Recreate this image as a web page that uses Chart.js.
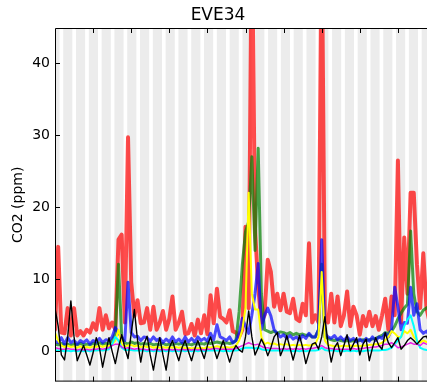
<!DOCTYPE html>
<html>
<head>
    <meta charset="utf-8" />
    <title>EVE34</title>
    <script src="https://cdn.jsdelivr.net/npm/chart.js@4.4.0/dist/chart.umd.min.js"></script>
    <style>
        html, body { margin: 0; padding: 0; background: #fff; overflow: hidden; }
        #wrap { width: 427px; height: 391px; overflow: hidden; }
        canvas { display: block; }
    </style>
</head>
<body>

<div id="wrap"><canvas id="eve34" width="446" height="395"></canvas></div>

<script>
    // time axis, in days, one reading every 6 hours
    var days = [];
    for (var i = 0; i <= 120; i++) days.push(i / 4);

    var yTicks = [0, 10, 20, 30, 40];
    var xTicks = [3, 6, 9, 12, 15, 18, 21, 24, 27];

    var red = [
        3, 14.5, 2.6, 2.5, 6.0, 2.2, 6.0, 2.2, 2.8, 2.2, 3.0, 2.6, 3.9, 3.0, 6.0, 3.0, 5.0, 3.2, 4.0, 3.0,
        15.5, 16.2, 4.0, 29.7, 9.6, 4.9, 7.1, 3.9, 4.0, 6.0, 3.0, 6.2, 3.0, 4.0, 5.6, 3.0, 4.5, 7.6, 3.0, 4.0,
        5.5, 2.4, 2.5, 3.8, 2.2, 4.4, 2.5, 5.0, 2.4, 7.8, 3.9, 8.7, 4.8, 4.5, 4.0, 5.7, 2.8, 2.6, 2.0, 3.0,
        17.3, 6.0, 60, 17, 9, 4, 5, 12.7, 11, 6.2, 8.0, 5.7, 8.0, 5.5, 5.3, 7.3, 4.5, 4.2, 6.6, 5.0,
        15.0, 4.0, 5.0, 4.0, 60, 5, 4, 8.0, 4.0, 7.6, 3.5, 5.0, 8.3, 3.5, 6.2, 5.0, 2.3, 4.9, 3.5, 5.5,
        3.5, 4.9, 3.0, 5.0, 7.3, 3.0, 7.6, 5.0, 26.5, 4.0, 15.8, 8.0, 22.0, 22.0, 12.1, 6.0, 13.6, 6.0, 4.0, 5.0,
        4.0
    ];
    var green = [
        1.0, 0.9, 1.1, 0.9, 1.0, 0.8, 1.0, 0.9, 1.1, 0.9, 1.0, 0.9, 1.1, 1.0, 1.2, 1.0, 1.1, 1.0, 1.5, 2.5,
        12.1, 2.0, 1.2, 1.0, 1.3, 1.1, 1.2, 1.0, 1.1, 1.0, 1.1, 0.9, 1.0, 0.9, 1.1, 0.9, 1.0, 0.9, 1.1, 1.0,
        1.1, 0.9, 1.0, 0.9, 1.1, 1.0, 1.1, 1.0, 1.2, 1.1, 1.2, 1.3, 1.2, 1.1, 1.2, 1.1, 1.2, 1.5, 5.5, 12.0,
        16.6, 18.0, 27.0, 14.0, 28.2, 8.0, 3.0, 2.8, 2.6, 2.8, 2.5, 2.7, 2.6, 2.4, 2.6, 2.3, 2.5, 2.3, 2.4, 2.2,
        2.3, 2.0, 2.0, 3.0, 12.1, 2.0, 1.8, 1.6, 1.5, 1.6, 1.5, 1.4, 1.5, 1.4, 1.5, 1.4, 1.5, 1.6, 1.5, 1.6,
        1.7, 1.8, 2.0, 2.2, 2.6, 2.5, 2.8, 3.5, 4.5, 5.3, 6.0, 6.5, 16.7, 8.0, 5.5, 5.0, 5.7, 6.0, 6.3, 6.6,
        7.0
    ];
    var blue = [
        1.4, 1.2, 1.9, 1.0, 1.9, 1.2, 1.5, 1.0, 1.5, 1.2, 1.6, 1.0, 1.5, 1.3, 1.8, 1.2, 1.6, 1.5, 2.0, 3.3,
        2.5, 2.0, 1.5, 9.6, 2.6, 2.0, 2.1, 1.5, 2.0, 1.9, 1.4, 2.0, 1.5, 1.8, 1.2, 1.7, 1.3, 2.0, 1.3, 1.7,
        1.2, 2.0, 1.3, 1.8, 1.3, 2.0, 1.5, 1.8, 1.4, 2.5, 1.6, 3.7, 2.0, 1.8, 1.5, 2.0, 1.2, 1.5, 2.5, 4.6,
        3.5, 2.5, 5.0, 8.0, 12.2, 3.0, 5.0, 6.0, 4.9, 3.0, 2.5, 2.0, 2.3, 1.8, 2.2, 1.7, 2.0, 1.6, 2.2, 1.8,
        2.5, 2.0, 2.0, 3.0, 15.5, 2.5, 2.0, 1.8, 2.2, 1.6, 2.0, 1.5, 2.0, 1.5, 1.8, 1.3, 1.7, 1.3, 1.8, 1.4,
        2.0, 1.5, 2.0, 1.8, 2.5, 2.0, 3.0, 8.9, 6.2, 3.0, 4.0, 3.9, 8.9, 5.0, 6.6, 3.0, 2.5, 2.8, 2.2, 2.5,
        2.2
    ];
    var yellow = [
        2.6, 1.5, 0.8, 0.6, 0.8, 0.6, 0.7, 0.5, 0.7, 0.5, 0.6, 0.5, 0.7, 0.6, 0.8, 0.6, 0.8, 0.7, 1.0, 1.5,
        3.0, 1.0, 0.7, 0.8, 0.9, 0.7, 0.8, 0.6, 0.7, 0.6, 0.7, 0.5, 0.6, 0.5, 0.6, 0.5, 0.6, 0.5, 0.6, 0.5,
        0.6, 0.4, 0.5, 0.4, 0.5, 0.4, 0.5, 0.4, 0.6, 0.5, 0.6, 0.7, 0.6, 0.5, 0.6, 0.5, 0.6, 0.8, 1.5, 3.0,
        6.0, 22.0, 8.0, 5.8, 5.8, 2.0, 1.0, 1.2, 1.0, 1.1, 0.9, 1.0, 0.9, 1.0, 0.8, 0.9, 0.8, 0.9, 0.8, 0.9,
        0.8, 0.9, 1.0, 2.0, 11.0, 1.5, 0.9, 0.8, 0.7, 0.8, 0.7, 0.8, 0.7, 0.8, 0.7, 0.8, 0.7, 0.8, 0.8, 0.9,
        0.9, 1.0, 1.0, 1.2, 1.5, 2.0, 2.8, 2.5, 2.0, 2.0, 2.8, 2.5, 3.0, 2.0, 1.5, 1.2, 1.5, 1.3, 1.2, 1.3,
        1.2
    ];
    var cyan = [
        0.2, 0.1, 0.1, 0.0, 0.1, 0.0, 0.1, 0.0, 0.1, 0.0, 0.1, 0.0, 0.1, 0.1, 0.2, 0.1, 0.2, 0.3, 1.0, 2.0,
        1.5, 0.5, 0.2, 0.2, 0.2, 0.1, 0.1, 0.1, 0.1, 0.0, 0.1, 0.0, 0.1, 0.0, 0.1, 0.0, 0.1, 0.0, 0.1, 0.0,
        0.1, 0.0, 0.1, 0.0, 0.1, 0.0, 0.1, 0.0, 0.1, 0.1, 0.1, 0.1, 0.1, 0.0, 0.1, 0.0, 0.1, 0.1, 0.2, 0.4,
        0.5, 0.5, 0.5, 0.4, 0.5, 0.3, 0.2, 0.2, 0.1, 0.1, 0.1, 0.1, 0.1, 0.1, 0.1, 0.0, 0.1, 0.0, 0.1, 0.0,
        0.1, 0.1, 0.1, 0.2, 0.5, 0.2, 0.1, 0.1, 0.1, 0.0, 0.1, 0.0, 0.1, 0.0, 0.1, 0.0, 0.1, 0.0, 0.1, 0.1,
        0.1, 0.1, 0.1, 0.2, 0.2, 0.3, 0.5, 1.0, 1.5, 2.0, 3.5, 4.4, 5.0, 3.5, 1.5, 0.5, 0.3, 0.2, 0.2, 0.2,
        0.2
    ];
    var magenta = [
        0.5, 0.4, 0.3, 0.3, 0.4, 0.3, 0.3, 0.2, 0.3, 0.2, 0.3, 0.2, 0.3, 0.3, 0.4, 0.3, 0.4, 0.5, 0.8, 1.0,
        1.0, 0.6, 0.4, 0.5, 0.4, 0.3, 0.4, 0.3, 0.3, 0.2, 0.3, 0.2, 0.3, 0.2, 0.3, 0.2, 0.3, 0.2, 0.3, 0.2,
        0.3, 0.2, 0.3, 0.2, 0.3, 0.2, 0.3, 0.2, 0.3, 0.3, 0.4, 0.4, 0.3, 0.3, 0.3, 0.3, 0.3, 0.4, 0.6, 0.8,
        1.0, 1.2, 1.0, 0.9, 1.0, 0.7, 0.5, 0.5, 0.4, 0.4, 0.4, 0.3, 0.4, 0.3, 0.4, 0.3, 0.4, 0.3, 0.4, 0.3,
        0.4, 0.4, 0.5, 0.6, 0.8, 0.5, 0.4, 0.4, 0.3, 0.3, 0.3, 0.3, 0.3, 0.3, 0.4, 0.3, 0.4, 0.4, 0.5, 0.5,
        0.6, 0.6, 0.7, 0.8, 1.0, 1.0, 1.2, 0.9, 0.5, 0.6, 0.8, 1.0, 1.2, 1.0, 1.0, 0.8, 1.2, 1.0, 0.8, 1.0,
        0.8
    ];
    var black = [
        6.0, 3.5, -0.5, -1.2, 2.0, 7.0, 2.0, -1.3, -0.2, 0.8, -0.5, -1.9, -0.2, 1.9, 0.5, -2.2, 0.0, 1.9, 0.0, -1.7,
        0.5, 2.3, 0.5, -1.0, 2.5, 5.8, 1.5, -1.5, 1.0, 2.1, -0.5, -2.6, 0.0, 1.9, -0.5, -2.6, 0.5, 1.5, 0.0, -1.3,
        0.5, 1.5, 0.0, -1.3, 0.3, 1.5, 0.2, -1.0, 0.8, 2.0, 0.5, -1.0, 0.3, 1.5, 0.0, -1.5, 0.0, 0.8, 0.2, -0.1,
        2.0, 5.6, 2.0, -0.5, 0.5, 1.7, 0.8, -0.6, 0.5, 2.0, 2.6, -0.6, 0.5, 2.2, 0.5, -1.2, 0.5, 2.2, 0.5, -1.7,
        -0.2, 1.0, 1.2, 0.3, 2.0, 4.8, 1.0, -1.5, 0.5, 1.2, -0.6, 0.8, 2.3, 0.1, 1.0, 1.9, -0.5, 1.0, 1.7, -1.3,
        0.5, 1.9, 0.8, 0.3, 2.6, 1.2, 0.5, 1.2, 1.9, 0.3, 0.8, 1.5, 1.9, 1.5, 1.0, 1.5, 2.0, 2.1, 1.0, 1.5,
        2.0
    ];

    function pts(values) {
        return values.map(function (v, k) { return { x: days[k], y: v }; });
    }

    function line(values, color, width) {
        return {
            data: pts(values),
            borderColor: color,
            borderWidth: width,
            pointRadius: 0,
            tension: 0,
            fill: false,
            borderJoinStyle: 'round',
            borderCapStyle: 'round'
        };
    }

    // grey day bands behind the curves, white gaps at night
    var bands = {
        id: 'bands',
        beforeDatasetsDraw: function (chart) {
            var ctx = chart.ctx, a = chart.chartArea, x = chart.scales.x;
            ctx.save();
            ctx.beginPath();
            ctx.rect(a.left, a.top, a.right - a.left, a.bottom - a.top);
            ctx.clip();
            ctx.fillStyle = '#ececec';
            ctx.fillRect(a.left, a.top, a.right - a.left, a.bottom - a.top);
            ctx.fillStyle = '#ffffff';
            for (var k = -5; k < 32; k++) {
                var s = 4.39 + 1.008 * k;
                var x0 = x.getPixelForValue(s), x1 = x.getPixelForValue(s + 0.29);
                ctx.fillRect(x0, a.top, x1 - x0, a.bottom - a.top);
            }
            ctx.restore();
        },
        afterDraw: function (chart) {
            var ctx = chart.ctx, a = chart.chartArea, x = chart.scales.x, y = chart.scales.y;
            ctx.save();
            ctx.strokeStyle = '#000';
            ctx.lineWidth = 1;
            ctx.beginPath();
            ctx.moveTo(a.left + 0.5, a.bottom - 0.5);
            ctx.lineTo(a.left + 0.5, a.top + 0.5);
            ctx.lineTo(a.right, a.top + 0.5);
            ctx.moveTo(a.left, a.bottom - 0.5);
            ctx.lineTo(a.right, a.bottom - 0.5);
            yTicks.forEach(function (t) {
                var py = Math.round(y.getPixelForValue(t)) + 0.5;
                ctx.moveTo(a.left, py);
                ctx.lineTo(a.left + 5, py);
            });
            xTicks.forEach(function (t) {
                var px = Math.round(x.getPixelForValue(t)) + 0.5;
                ctx.moveTo(px, a.top);
                ctx.lineTo(px, a.top + 5);
                ctx.moveTo(px, a.bottom);
                ctx.lineTo(px, a.bottom - 5);
            });
            ctx.stroke();
            ctx.restore();
        }
    };

    var ctx = document.getElementById('eve34').getContext('2d');
    var chart = new Chart(ctx, {
        type: 'line',
        data: {
            datasets: [
                line(black, '#000000', 1.4),
                line(magenta, 'rgba(230, 0, 230, 0.85)', 1.5),
                line(cyan, '#00ffff', 2),
                line(yellow, '#ffff00', 2),
                line(blue, 'rgba(0, 0, 255, 0.7)', 3),
                line(green, 'rgba(0, 128, 0, 0.7)', 3),
                line(red, 'rgba(255, 0, 0, 0.7)', 4)
            ]
        },
        options: {
            responsive: false,
            animation: false,
            layout: { padding: { left: 0, right: 10, top: 0, bottom: 5 } },
            plugins: {
                legend: { display: false },
                tooltip: { enabled: false },
                title: {
                    display: true,
                    text: 'EVE34',
                    color: '#000',
                    font: { family: 'DejaVu Sans', size: 17, weight: 'normal' },
                    padding: { top: 5, bottom: 2.6 }
                }
            },
            scales: {
                x: {
                    type: 'linear',
                    display: false,
                    min: 0,
                    max: 30
                },
                y: {
                    min: -4.2,
                    max: 44.88,
                    afterBuildTicks: function (s) {
                        s.ticks = yTicks.map(function (v) { return { value: v }; });
                    },
                    afterFit: function (s) { s.width = 55; },
                    grid: { display: false, drawTicks: false, tickLength: 0 },
                    border: { display: false },
                    ticks: {
                        color: '#000',
                        padding: 5,
                        font: { family: 'DejaVu Sans', size: 14 }
                    },
                    title: {
                        display: true,
                        text: 'CO2 (ppm)',
                        color: '#000',
                        font: { family: 'DejaVu Sans', size: 14 },
                        padding: { top: 10, bottom: 0 }
                    }
                }
            }
        },
        plugins: [bands]
    });
</script>

</body>
</html>
